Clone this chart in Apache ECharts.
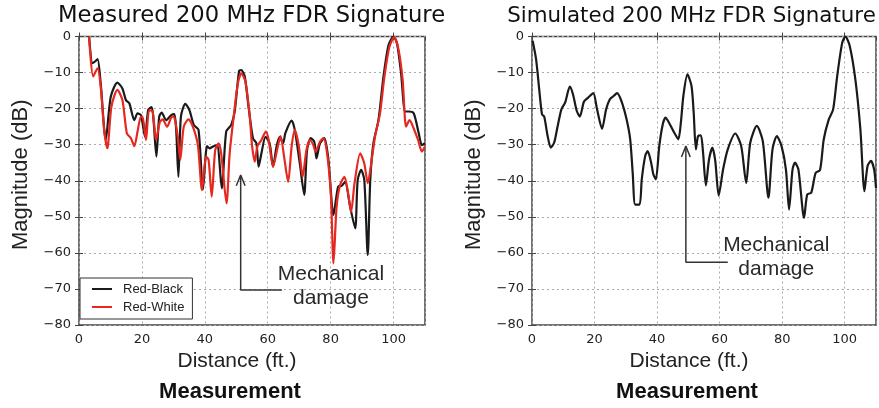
<!DOCTYPE html>
<html>
<head>
<meta charset="utf-8">
<script src="https://cdn.jsdelivr.net/npm/echarts@6/dist/echarts.min.js"></script>
<style>
  html, body { margin: 0; padding: 0; background: #fff; }
  #chart { width: 879px; height: 408px; }
</style>
</head>
<body>
<div id="chart"></div>
<script>
// Measured FDR magnitude, Red-Black conductor pair (distance in ft, magnitude in dB)
const redBlackFt = [3.2,4.3,5.0,5.9,6.9,8.5,10.1,12.2,13.8,14.9,16.0,17.6,18.6,19.7,21.0,22.0,23.1,23.7,24.6,25.5,26.3,27.7,29.3,30.3,30.9,31.6,32.4,33.8,35.1,36.5,38.0,39.4,40.7,41.5,42.6,43.9,45.4,46.8,48.4,49.5,50.9,51.6,52.7,53.9,55.3,56.4,57.1,58.0,59.3,60.6,61.7,62.8,63.8,64.9,65.6,67.6,68.6,70.2,71.6,72.5,73.7,74.8,75.5,76.6,78.0,79.3,80.9,82.4,83.5,84.6,86.2,87.8,88.6,89.7,90.7,91.8,92.6,93.6,95.2,96.8,98.4,100.0,101.1,102.4,103.7,104.8,106.4,108.0,109.0,110.0];
const redBlackDb = [0,-7.4,-7.0,-6.3,-13,-28.7,-16.7,-12.8,-14.4,-17.6,-18.5,-23.2,-21.3,-21.8,-27.8,-20.4,-19.6,-23.2,-33.3,-22.2,-21.1,-23.2,-21.8,-21.5,-25.9,-38.9,-22.2,-18.7,-20.4,-24.5,-25.9,-42.4,-30.4,-31.0,-30.5,-30.1,-42.1,-26.4,-24.5,-20.8,-9.5,-9.3,-11.1,-19.5,-28.2,-29.6,-36.1,-32.4,-27.8,-29.6,-36.1,-30.5,-27.8,-29.6,-26.8,-23.3,-25.9,-35.2,-43.9,-31.5,-28.2,-29.2,-33.8,-29.6,-28.2,-34.2,-49.5,-41.6,-41.4,-40.3,-47.2,-53.2,-39.8,-37.0,-39.8,-60.6,-39.8,-29.6,-23.2,-11.1,-2.4,0,-1.9,-10.2,-20.8,-20.8,-21.3,-26.8,-30.1,-29.6];

// Measured FDR magnitude, Red-White conductor pair
const redWhiteFt = [3.2,4.5,5.9,6.9,8.0,9.0,10.3,12.2,13.8,15.2,16.5,17.6,18.6,19.7,20.2,21.3,22.3,23.4,24.5,25.7,26.6,28.0,29.6,30.3,31.4,32.2,33.3,34.8,36.2,37.8,39.1,40.4,41.2,42.2,43.3,44.4,45.2,46.9,47.9,49.3,50.5,51.6,52.9,54.3,55.0,55.9,56.7,58.0,59.4,60.3,61.7,63.3,64.1,65.2,66.5,67.6,68.6,69.9,71.1,72.3,73.4,74.5,75.2,76.6,77.7,79.0,80.1,80.9,81.9,83.0,84.4,85.4,86.5,87.6,89.4,90.7,91.8,92.9,94.1,95.7,97.1,98.7,100.2,101.6,102.9,104.0,105.1,106.4,107.8,109.0,110.0];
const redWhiteDb = [0,-11.1,-8.8,-13.9,-25.9,-31.0,-19.5,-14.8,-17.6,-26.8,-28.2,-30.4,-26.4,-22.2,-22.2,-28.7,-20.4,-20.8,-28.7,-23.7,-23.0,-25.0,-22.2,-22.4,-27.8,-34.2,-25.0,-23.0,-25.0,-30.1,-42.6,-33.3,-34.2,-44.4,-31.5,-29.6,-32.4,-46.3,-32.4,-21.3,-13.0,-10.2,-12.5,-22.2,-30.1,-34.7,-30.5,-28.7,-26.4,-28.7,-36.1,-30.1,-27.6,-33.3,-40.3,-30.5,-25.9,-30.5,-38.9,-31.5,-28.7,-30.1,-31.9,-29.2,-28.2,-33.3,-44.4,-62.9,-47.2,-41.2,-38.9,-42.6,-48.6,-40.7,-32.4,-35.2,-40.7,-35.2,-27.8,-21.3,-11.1,-2.8,-0.2,-3.7,-12.1,-25.0,-23.2,-25.5,-28.7,-31.9,-30.5];

// Simulated FDR magnitude
const simulatedFt = [0.2,1.3,2.3,3.2,3.9,5.0,6.0,7.1,8.1,9.4,10.6,12.1,13.1,14.3,15.3,16.6,18.0,19.6,20.8,22.4,23.7,24.9,26.1,27.2,28.6,30.2,31.4,32.2,33.0,34.4,35.1,36.2,37.0,38.1,38.8,39.6,40.7,41.8,42.7,44.1,45.5,46.8,47.6,48.4,49.7,51.0,51.7,52.4,53.1,54.0,54.7,55.6,56.6,57.7,58.6,59.7,61.1,62.6,65.0,66.9,68.5,69.8,71.9,73.8,75.6,76.9,78.3,79.8,81.2,82.2,83.3,84.1,85.2,87.0,88.0,89.3,90.7,92.1,93.3,94.9,96.3,97.6,99.2,100.2,101.6,103.4,105.0,106.3,107.3,108.4,109.4,110.0];
const simulatedDb = [-1.2,-6.3,-14.6,-21.6,-22.2,-27.6,-30.8,-29.4,-25.3,-20.2,-18.3,-13.9,-16.0,-20.6,-22.2,-18.1,-16.9,-15.7,-20.2,-25.6,-20.2,-17.4,-16.5,-15.7,-17.9,-22.8,-28.5,-37.8,-46.6,-46.6,-39.6,-33.1,-31.8,-35.0,-38.2,-39.6,-30.4,-24.4,-22.5,-24.4,-26.7,-28.5,-23.9,-16.5,-10.5,-13.7,-21.1,-31.3,-27.6,-27.4,-32.2,-41.3,-34.1,-30.8,-34.5,-44.1,-36.9,-31.3,-26.9,-30.4,-40.6,-29.4,-24.8,-29.0,-44.7,-31.3,-27.6,-30.4,-36.9,-48.0,-36.9,-35.0,-36.9,-50.3,-43.8,-43.3,-37.8,-37.0,-28.5,-23.0,-20.2,-10.9,-1.7,0,-2.6,-11.9,-25.7,-42.9,-35.9,-34.5,-36.9,-42.0];

// Axis ranges and ticks
const distanceRange = [0, 110];
const distanceStep = 20;
const magnitudeRange = [-80, 0];
const magnitudeStep = 10;

// "Mechanical damage" call-outs, in data coordinates (ft, dB)
const damageArrowMeasured = [[64.5, -70.3], [51.4, -70.3], [51.4, -38.6]];
const damageHeadMeasured = [[50.0, -41.4], [51.4, -38.4], [52.8, -41.4]];
const damageLabelMeasured = [80.1, -69.2];
const damageArrowSimulated = [[62.6, -62.6], [49.2, -62.6], [49.2, -30.6]];
const damageHeadSimulated = [[47.8, -33.4], [49.2, -30.4], [50.6, -33.4]];
const damageLabelSimulated = [78.1, -61.1];

const zip = (xs, ys) => xs.map((x, i) => [x, ys[i]]);
const minusFmt = v => (v < 0 ? '\u2212' + Math.abs(v) : String(v));

const tickFont = { fontFamily: 'DejaVu Sans', fontSize: 13, color: '#222' };
const nameFont = { fontFamily: 'Liberation Sans', fontSize: 21, color: '#222' };
const frameColor = '#444';
const gridLine = { show: true, lineStyle: { type: [2, 3], color: '#aaa', width: 1 } };

function bottomX(gi) {
  return {
    type: 'value', gridIndex: gi, position: 'bottom',
    min: distanceRange[0], max: distanceRange[1], interval: distanceStep,
    axisLine: { show: false },
    axisTick: { inside: true, length: 4, lineStyle: { color: frameColor } },
    axisLabel: Object.assign({ margin: 8, showMaxLabel: false }, tickFont),
    splitLine: gridLine,
    name: 'Distance (ft.)', nameLocation: 'middle', nameGap: 26,
    nameTextStyle: Object.assign({ padding: [0, 30, 0, 0] }, nameFont)
  };
}
function topX(gi) {
  return {
    type: 'value', gridIndex: gi, position: 'top',
    min: distanceRange[0], max: distanceRange[1], interval: distanceStep,
    axisLine: { show: false },
    axisTick: { inside: true, length: 4, lineStyle: { color: frameColor } },
    axisLabel: { show: false }, splitLine: { show: false }
  };
}
function leftY(gi) {
  return {
    type: 'value', gridIndex: gi, position: 'left',
    min: magnitudeRange[0], max: magnitudeRange[1], interval: magnitudeStep,
    axisLine: { show: false },
    axisTick: { inside: true, length: 4, lineStyle: { color: frameColor } },
    axisLabel: Object.assign({ margin: 8, formatter: minusFmt }, tickFont),
    splitLine: gridLine,
    name: 'Magnitude (dB)', nameLocation: 'middle', nameGap: 47, nameRotate: 90,
    nameTextStyle: Object.assign({}, nameFont, { fontSize: 22, padding: [0, 0, 0, 12] })
  };
}
function rightY(gi) {
  return {
    type: 'value', gridIndex: gi, position: 'right',
    min: magnitudeRange[0], max: magnitudeRange[1], interval: magnitudeStep,
    axisLine: { show: false },
    axisTick: { inside: true, length: 4, lineStyle: { color: frameColor } },
    axisLabel: { show: false }, splitLine: { show: false }
  };
}

function curve(name, data, color, gi) {
  return {
    name, type: 'line', data, xAxisIndex: gi, yAxisIndex: gi,
    symbol: 'none', smooth: 0.25, clip: true,
    lineStyle: { color, width: 2.2 }, itemStyle: { color },
    emphasis: { disabled: true }, z: 3
  };
}
function callout(data, gi) {
  return {
    type: 'line', data, xAxisIndex: gi, yAxisIndex: gi,
    symbol: 'none', silent: true, smooth: false,
    lineStyle: { color: '#333', width: 1.5 }, z: 4
  };
}
// Two-line call-out caption placed at a data coordinate
function calloutText(point, gi) {
  return {
    type: 'custom', data: [point], xAxisIndex: gi, yAxisIndex: gi,
    silent: true, clip: false, z: 5,
    renderItem: (params, api) => {
      const p = api.coord([api.value(0), api.value(1)]);
      return {
        type: 'text', x: p[0], y: p[1],
        style: {
          text: 'Mechanical\ndamage', font: '21px "Liberation Sans"', lineHeight: 24,
          fill: '#2a2a2a', align: 'center', verticalAlign: 'middle'
        }
      };
    }
  };
}

const chart = echarts.init(document.getElementById('chart'), null, { renderer: 'canvas' });
chart.setOption({
  animation: false,
  backgroundColor: '#fff',
  grid: [
    { left: 79, top: 36.5, width: 346, height: 288.5, show: true, borderColor: frameColor, borderWidth: 1.5, backgroundColor: 'transparent' },
    { left: 532, top: 36.5, width: 344, height: 288.5, show: true, borderColor: frameColor, borderWidth: 1.5, backgroundColor: 'transparent' }
  ],
  xAxis: [bottomX(0), bottomX(1), topX(0), topX(1)],
  yAxis: [leftY(0), leftY(1), rightY(0), rightY(1)],
  legend: {
    orient: 'vertical', left: 80, top: 278,
    data: [{ name: 'Red-Black', icon: 'rect' }, { name: 'Red-White', icon: 'rect' }],
    itemWidth: 20, itemHeight: 2, itemGap: 4,
    padding: [4, 8, 5, 12],
    borderColor: '#333', borderWidth: 1, backgroundColor: '#fff',
    textStyle: { fontFamily: 'Liberation Sans', fontSize: 13, color: '#222', lineHeight: 14, padding: [0, 0, 0, 6] },
    selectedMode: false
  },
  graphic: [
    { type: 'text', x: 251.5, y: 16, style: { text: 'Measured 200 MHz FDR Signature', font: '22.7px "DejaVu Sans"', fill: '#111', textAlign: 'center', textVerticalAlign: 'middle' } },
    { type: 'text', x: 691.5, y: 16, style: { text: 'Simulated 200 MHz FDR Signature', font: '21.4px "DejaVu Sans"', fill: '#111', textAlign: 'center', textVerticalAlign: 'middle' } },
    { type: 'text', x: 230, y: 392, style: { text: 'Measurement', font: 'bold 22px "Liberation Sans"', fill: '#111', textAlign: 'center', textVerticalAlign: 'middle' } },
    { type: 'text', x: 687, y: 392, style: { text: 'Measurement', font: 'bold 22px "Liberation Sans"', fill: '#111', textAlign: 'center', textVerticalAlign: 'middle' } }
  ],
  series: [
    curve('Red-Black', zip(redBlackFt, redBlackDb), '#1a1a1a', 0),
    curve('Red-White', zip(redWhiteFt, redWhiteDb), '#e62820', 0),
    curve('Simulated', zip(simulatedFt, simulatedDb), '#1a1a1a', 1),
    callout(damageArrowMeasured, 0),
    callout(damageHeadMeasured, 0),
    callout(damageArrowSimulated, 1),
    callout(damageHeadSimulated, 1),
    calloutText(damageLabelMeasured, 0),
    calloutText(damageLabelSimulated, 1)
  ]
});
</script>
</body>
</html>
